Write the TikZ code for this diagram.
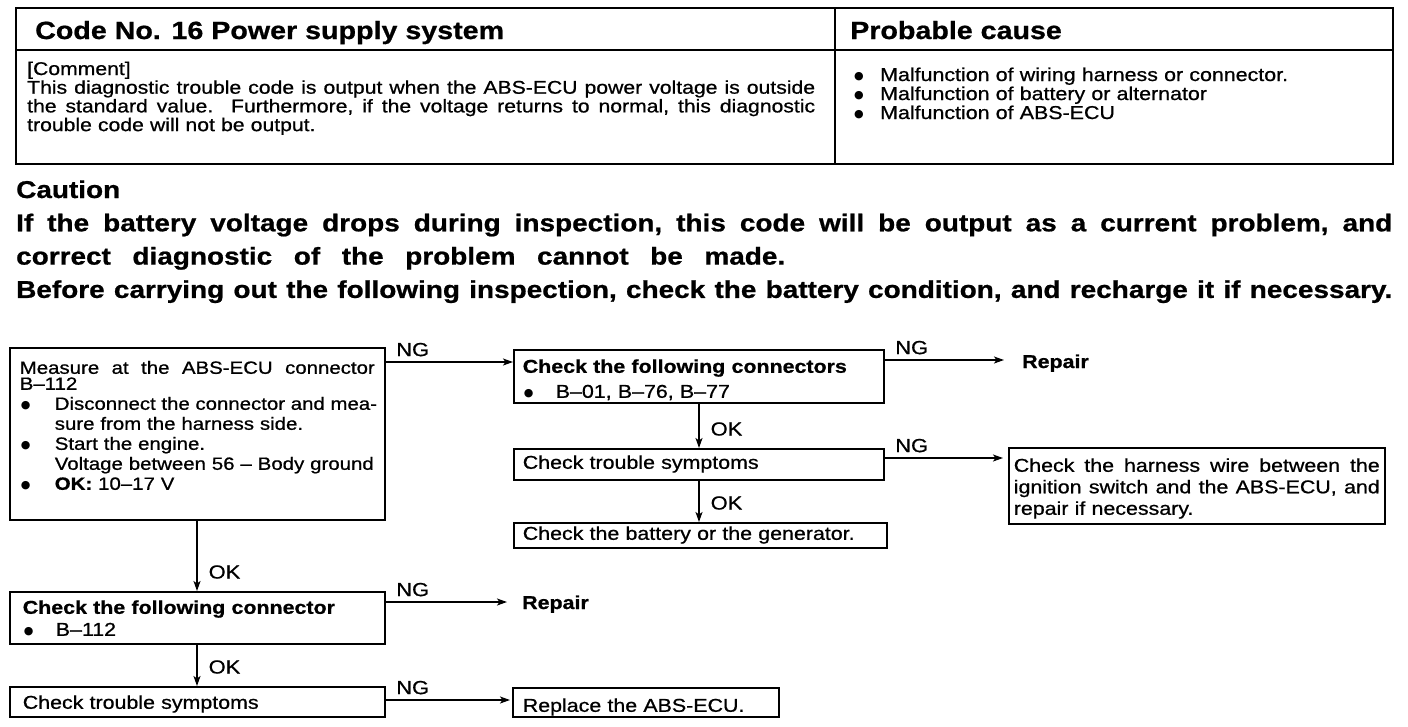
\documentclass[tikz,border=0pt]{standalone}
\usepackage{fontspec}
\setmainfont{Liberation Sans}[FakeStretch=1.15, FakeBold=0.8]
\newfontfamily\symf{DejaVu Sans}
\usetikzlibrary{arrows.meta}
\newcommand{\bult}[1][35pt]{\makebox[#1][l]{\hspace{1pt}\raisebox{1.8pt}{\symf\fontsize{11}{11}\selectfont ●}}}
\newcommand{\hind}[1][35pt]{\hspace*{#1}}
\newcommand{\jline}[2]{\leavevmode\hbox to #1{\frenchspacing\spaceskip=\fontdimen2\font plus 1fil\relax #2}}
\tikzset{
  box/.style={draw, line width=1.6pt, anchor=north west, inner ysep=0pt, inner xsep=9pt, font=\fontsize{18.6}{21}\selectfont},
  arr/.style={line width=1.4pt, -{Stealth[length=10pt,width=7pt,inset=2.5pt]}},
  lbl/.style={inner sep=0pt, font=\fontsize{19}{21}\selectfont},
  ng/.style={lbl, pos=0, anchor=south west, xshift=10pt, yshift=5pt},
  ok/.style={lbl, pos=1, anchor=west, xshift=11pt, yshift=19pt},
  txt/.style={inner sep=0pt, anchor=base west},
}
\begin{document}
\begin{tikzpicture}[x=1pt,y=-1pt]
\useasboundingbox (0,0) rectangle (1408,726);
\fill[white] (0,0) rectangle (1408,726);
% table
\draw[line width=2pt] (16,8) rectangle (1393,164);
\draw[line width=1.5pt] (16,50) -- (1393,50);
\draw[line width=1.3pt] (835,8) -- (835,164);
\node[txt, font=\bfseries\fontsize{24.9}{28}\selectfont] (title) at (35,39) {Code No. 16 Power supply system};
\node[txt, font=\bfseries\fontsize{24.9}{28}\selectfont] (pc) at (850,39) {Probable cause};
\node[txt, text width=790pt, font=\fontsize{18.4}{18.7}\selectfont] (comment) at (27,75) {{[Comment]}\\
\jline{788pt}{This diagnostic trouble code is output when the ABS-ECU power voltage is outside}\\
\jline{788pt}{the standard value.\ \ Furthermore, if the voltage returns to normal, this diagnostic}\\
trouble code will not be output.};
\node[txt, text width=500pt, font=\fontsize{18.6}{19}\selectfont] (causes) at (853,81) {\bult[27pt]Malfunction of wiring harness or connector.\\
\bult[27pt]Malfunction of battery or alternator\\
\bult[27pt]Malfunction of ABS-ECU};
% caution
\node[txt, text width=1385pt, font=\bfseries\fontsize{24.3}{33.3}\selectfont] (caution) at (16,198) {Caution\\
\jline{1376pt}{If the battery voltage drops during inspection, this code will be output as a current problem, and}\\
\jline{769pt}{correct diagnostic of the problem cannot be made.}\\
\jline{1376pt}{Before carrying out the following inspection, check the battery condition, and recharge it if necessary.}};
% flow boxes
\node[box, text width=355pt, inner xsep=10pt, text height=26pt, text depth=146pt, font=\fontsize{17.75}{20}\selectfont] (a) at (9,347) {\jline{355pt}{Measure at the ABS-ECU connector}\\[-4pt]
B--112\\
\bult\jline{321pt}{Disconnect the connector and mea-}\\
\hind sure from the harness side.\\
\bult Start the engine.\\
\hind Voltage between 56 -- Body ground\\
\bult\textbf{OK:} 10--17 V};
\node[box, text width=352pt, text height=23pt, text depth=30pt, font=\fontsize{18.6}{25}\selectfont] (b) at (513,349) {\textbf{Check the following connectors}\\
\bult[33pt]B--01, B--76, B--77};
\node[box, text width=352pt, text height=20pt, text depth=11pt] (c) at (513,448) {Check trouble symptoms};
\node[box, text width=355pt, text height=17pt, text depth=8pt] (e) at (513,522) {Check the battery or the generator.};
\node[box, text width=366pt, inner xsep=5pt, text height=24pt, text depth=52pt, font=\fontsize{18.6}{21.5}\selectfont] (d) at (1008,447) {\jline{366pt}{Check the harness wire between the}\\
\jline{366pt}{ignition switch and the ABS-ECU, and}\\
repair if necessary.};
\node[box, text width=349pt, inner xsep=13pt, text height=22pt, text depth=30pt, font=\fontsize{18.6}{22}\selectfont] (f) at (9,591) {\textbf{Check the following connector}\\
\bult[33pt]B--112};
\node[box, text width=349pt, inner xsep=13pt, text height=22pt, text depth=8pt] (g) at (9,686) {Check trouble symptoms};
\node[box, text width=246pt, inner xsep=10pt, text height=24pt, text depth=5pt] (h) at (512,687) {Replace the ABS-ECU.};
\node[txt, font=\bfseries\fontsize{18.6}{21}\selectfont] (rep1) at (1022,368) {Repair};
\node[txt, font=\bfseries\fontsize{18.6}{21}\selectfont] (rep2) at (522,609) {Repair};
% connectors
\draw[arr] (a.east |- 0,362) -- node[ng]{NG} (b.west |- 0,362);
\draw[arr, shorten >=18pt] (b.east |- 0,360) -- node[ng]{NG} (rep1.west |- 0,360);
\draw[arr] (b.south -| 699,0) -- node[ok]{OK} (c.north -| 699,0);
\draw[arr, shorten >=5pt] (c.east |- 0,458) -- node[ng]{NG} (d.west |- 0,458);
\draw[arr] (c.south -| 699,0) -- node[ok]{OK} (e.north -| 699,0);
\draw[arr] (a.south -| 197,0) -- node[ok]{OK} (f.north -| 197,0);
\draw[arr, shorten >=15pt] (f.east |- 0,602) -- node[ng]{NG} (rep2.west |- 0,602);
\draw[arr] (f.south -| 197,0) -- node[ok]{OK} (g.north -| 197,0);
\draw[arr, shorten >=2pt] (g.east |- 0,700) -- node[ng]{NG} (h.west |- 0,700);
\end{tikzpicture}
\end{document}
